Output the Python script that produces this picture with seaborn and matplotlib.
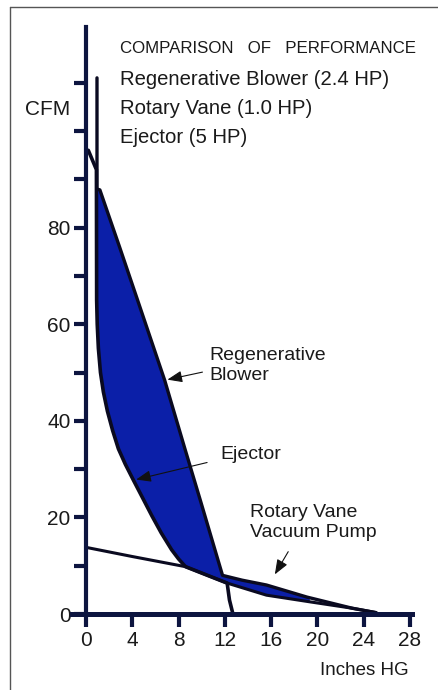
import numpy as np
import matplotlib
matplotlib.use("Agg")
import matplotlib.pyplot as plt
import seaborn as sns
from matplotlib.lines import Line2D

# curves (Inches HG, CFM)
blower_x = [0.95, 0.95, 1.2, 2.9, 4.5, 6.8, 8.55, 9.9, 11.8, 13.5, 15.6, 19.1, 23.0, 25.0]
blower_y = [111, 88, 87.8, 76, 64.7, 48.4, 34.2, 23.4, 8, 7, 6, 3.5, 1.2, 0.3]

ejector_x = [0, 0.2, 0.9, 0.92, 0.97, 1.07, 1.25, 1.5, 1.85, 2.3, 2.8, 3.4, 4.1, 4.9, 5.7,
             6.5, 7.4, 8.0, 8.6, 10.5, 12.2, 12.4, 12.7]
ejector_y = [96, 96, 92, 65, 60, 55, 50, 46, 42, 38, 34.2, 31, 27.7, 24, 20.3,
             16.8, 13.3, 11.4, 9.8, 8.0, 6.4, 2.9, 0]

rotary_x = [0, 4, 8.6, 12.2, 15.6, 19.4, 23.0, 25.1]
rotary_y = [13.8, 11.9, 9.8, 6.4, 3.9, 2.5, 1.2, 0.3]

x_ticks = [0, 4, 8, 12, 16, 20, 24, 28]
y_ticks = list(range(0, 120, 10))
y_labels = ["0", "", "20", "", "40", "", "60", "", "80", "", "", ""]

legend_lines = ["Regenerative Blower (2.4 HP)", "Rotary Vane (1.0 HP)", "Ejector (5 HP)"]

sns.set_style("white")
plt.rcParams["font.family"] = ["Liberation Sans", "DejaVu Sans"]

navy = "#0d1540"
blue = "#0b1fa8"
ink = "#1a1a1a"

fig = plt.figure(figsize=(4.38, 6.9), dpi=100)
ax = fig.add_axes([0, 0, 1, 1])
ax.set_xlim(-86 / 11.57, (438 - 86) / 11.57)
ax.set_ylim(-(690 - 614) / 4.83, 614 / 4.83)
ax.patch.set_alpha(0)

# blue area between blower and the lower curves
xs = np.linspace(0.95, 19.3, 400)
upper = np.interp(xs, blower_x[1:], blower_y[1:])
lower = np.maximum(np.interp(xs, ejector_x, ejector_y), np.interp(xs, rotary_x, rotary_y))
ax.fill_between(xs, lower, upper, color=blue, lw=0, zorder=2)

sns.lineplot(x=blower_x, y=blower_y, sort=False, estimator=None, color="#0a0a20", lw=2.4, ax=ax, zorder=3)
sns.lineplot(x=ejector_x, y=ejector_y, sort=False, estimator=None, color="#0a0a20", lw=2.6, ax=ax, zorder=3)
sns.lineplot(x=rotary_x, y=rotary_y, sort=False, estimator=None, color="#0a0a20", lw=2.2, ax=ax, zorder=3)

for s in ["top", "right"]:
    ax.spines[s].set_visible(False)
ax.spines["left"].set_position(("data", 0))
ax.spines["bottom"].set_position(("data", 0))
ax.spines["left"].set_bounds(0, 121.5)
ax.spines["bottom"].set_bounds(-1.2, 28.15)
ax.spines["left"].set_linewidth(3.0)
ax.spines["bottom"].set_linewidth(3.6)
ax.spines["left"].set_color(navy)
ax.spines["bottom"].set_color(navy)
ax.spines["left"].set_zorder(4)
ax.spines["bottom"].set_zorder(4)

ax.set_xticks(x_ticks)
ax.set_xticklabels([str(t) for t in x_ticks])
ax.set_yticks(y_ticks)
ax.set_yticklabels(y_labels)
ax.tick_params(axis="both", direction="out", length=9, width=3, color=navy,
               labelsize=15, labelcolor=ink, pad=3)
ax.tick_params(axis="y", pad=2)
ax.tick_params(left=True, bottom=True)

ax.text(-5.3, 104.5, "CFM", fontsize=15, color=ink, va="center", ha="left")
ax.text(20.2, -11.7, "Inches HG", fontsize=13.5, color=ink, va="center", ha="left")

ax.text(2.9, 117.0, "COMPARISON   OF   PERFORMANCE", fontsize=12.2, color=ink, va="center", ha="left")
for i, t in enumerate(legend_lines):
    ax.text(2.95, 110.7 - i * 6.0, t, fontsize=14.6, color=ink, va="center", ha="left")

# callouts
ax.text(10.7, 51.4, "Regenerative\nBlower", fontsize=14, color=ink, va="center", ha="left", linespacing=1.2)
ax.text(11.6, 33.0, "Ejector", fontsize=14, color=ink, va="center", ha="left")
ax.text(14.2, 19.0, "Rotary Vane\nVacuum Pump", fontsize=14, color=ink, va="center", ha="left", linespacing=1.2)

arrow = dict(arrowstyle="-|>,head_length=0.9,head_width=0.35", color="#111111", lw=0.8)
ax.annotate("", xy=(6.8, 48.4), xytext=(10.3, 50.2), arrowprops=arrow, zorder=5)
ax.annotate("", xy=(4.1, 27.7), xytext=(10.7, 31.5), arrowprops=arrow, zorder=5)
ax.annotate("", xy=(16.2, 7.7), xytext=(17.6, 13.4), arrowprops=arrow, zorder=5)

# page frame
fig.add_artist(Line2D([10 / 438, 10 / 438], [0, 1 - 7 / 690], color="#555555", lw=1.0))
fig.add_artist(Line2D([10 / 438, 1], [1 - 7 / 690, 1 - 7 / 690], color="#555555", lw=1.0))

fig.savefig("out.png", dpi=100, facecolor="white")
